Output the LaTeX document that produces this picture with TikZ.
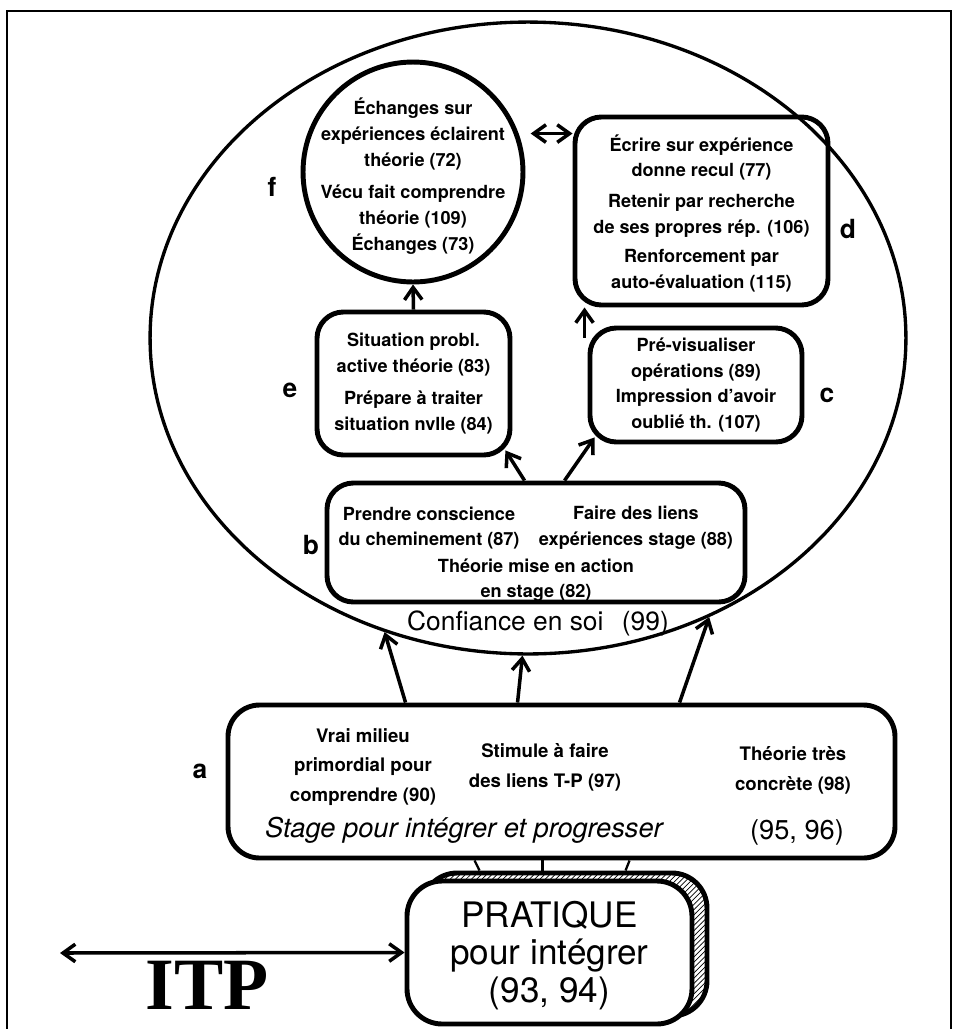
\documentclass[tikz,border=0pt]{standalone}
\usepackage{fontspec}
\setmainfont{TeX Gyre Heros}
\newfontfamily\itpfont{Liberation Serif}
\usepackage{tikz}
\usetikzlibrary{calc,arrows.meta,patterns,shapes.geometric,fit}
\newcommand{\boxfont}{\fontsize{10.3}{14.6}\selectfont\bfseries}
\newcommand{\stagefont}{\fontsize{10.6}{17}\selectfont\bfseries}
\tikzset{
  frameline/.style = {line width=1.3pt, draw=black},
  oval/.style      = {ellipse, draw=black, line width=1.9pt, minimum width=15.12cm, minimum height=12.64cm, inner sep=0pt},
  panel/.style     = {draw=black, line width=2.8pt, rounded corners=15pt, inner sep=0pt},
  bubble/.style    = {circle, draw=black, line width=2.8pt, minimum size=4.4cm, inner sep=0pt},
  pratbox/.style   = {draw=black, line width=2.8pt, rounded corners=20pt, inner sep=0pt},
  boxtext/.style   = {font=\boxfont, align=center, inner sep=0pt},
  stagetext/.style = {font=\stagefont, align=center, inner sep=0pt},
  tag/.style       = {font=\fontsize{15}{15}\selectfont\bfseries, inner sep=0pt},
  arr/.style       = {-{Straight Barb[length=7pt,width=10pt]}, line width=2pt},
  dblarr/.style    = {{Straight Barb[length=7pt,width=10pt]}-{Straight Barb[length=7pt,width=10pt]}, line width=2pt},
  link/.style      = {line width=1.3pt}
}

\begin{document}
\begin{tikzpicture}[x=0.02cm, y=-0.02cm]
    \useasboundingbox (0,0) rectangle (954,1029);
    % outer frame
    \draw[frameline] (7,1040) -- (7,11) -- (951,11) -- (951,1040);

    % large oval
    \node[oval] (conf) at (528,338) {};

    % f : circle
    \node[bubble] (f) at (413,172) {};
    \node[boxtext] (ftext) at ($(f.center)+(0,4)$) {Échanges sur\\expériences éclairent\\théorie (72)\\[4pt]Vécu fait comprendre\\théorie (109)\\Échanges (73)};
    \node[tag] (lf) at (272,187) {f};

    % d
    \node[panel, fit={(575,117) (828,305)}] (d) {};
    \node[boxtext] (dtext) at ($(d.center)+(0,2)$) {Écrire sur expérience\\donne recul (77)\\[3pt]Retenir par recherche\\de ses propres rép. (106)\\[2pt]Renforcement par\\auto-évaluation (115)};
    \node[tag] (ld) at (848,229) {d};

    % e
    \node[panel, fit={(317,312) (510,455)}] (e) {};
    \node[boxtext] (etext) at (e.center) {Situation probl.\\active théorie (83)\\[4pt]Prépare à traiter\\situation nvlle (84)};
    \node[tag] (le) at (290,390) {e};

    % c
    \node[panel, fit={(590,328) (802,442)}] (c) {};
    \node[boxtext] (ctext) at (c.center) {Pré-visualiser\\opérations (89)\\Impression d'avoir\\oublié th. (107)};
    \node[tag] (lc) at (827,395) {c};

    % b
    \node[panel, fit={(327,483) (745,602)}] (b) {};
    \node[boxtext] (b1) at (429,528) {Prendre conscience\\du cheminement (87)};
    \node[boxtext] (b2) at (636,528) {Faire des liens\\expériences stage (88)};
    \node[boxtext] (b3) at (536,580) {Théorie mise en action\\en stage (82)};
    \node[tag] (lb) at (311,545) {b};
    \node[font=\fontsize{15}{15}\selectfont, inner sep=0pt] (conftext) at (538,623) {Confiance en soi\hspace{0.7em}(99)};

    % a
    \node[panel, rounded corners=18pt, fit={(228,705) (895,858)}] (a) {};
    \node[stagetext] (a1) at (363,767) {Vrai milieu\\primordial pour\\comprendre (90)};
    \node[stagetext] (a2) at (545,767) {Stimule à faire\\des liens T-P (97)};
    \node[stagetext] (a3) at (793,770) {Théorie très\\concrète (98)};
    \node[font=\fontsize{15.5}{15.5}\selectfont\itshape, inner sep=0pt] (a4) at (464,830) {Stage pour intégrer et progresser};
    \node[font=\fontsize{15.5}{15.5}\selectfont, inner sep=0pt] (a5) at (797,832) {(95, 96)};
    \node[tag] (la) at (200,771) {a};

    % PRATIQUE with hatched shadow
    \node[pratbox, pattern=north east lines, fit={(422,873) (707,1016)}] (pshadow) {};
    \node[pratbox, fill=white, fit={(407,881) (692,1024)}] (prat) {};
    \node[font=\fontsize{20}{21.5}\selectfont, align=center, inner sep=0pt] (pratext) at ($(prat.center)+(0,3)$) {PRATIQUE\\pour intégrer\\(93, 94)};

    % ITP
    \coordinate (itpleft) at (60,953);
    \draw[dblarr] (itpleft) -- (prat.west);
    \node[font=\itpfont\bfseries\fontsize{42}{42}\selectfont, inner sep=0pt] (itp) at (207,985) {ITP};

    % connectors
    \draw[arr] (e.north) -- (f.south);
    \draw[dblarr] ($(f.20)+(12,0)$) -- (f.20 -| d.west);
    \draw[arr] ($(c.north west)+(-3,12)$) -- ($(d.south west)+(12,0)$);
    \draw[arr] ($(b.north west)+(200,0)$) -- ($(e.south east)+(-7,-7)$);
    \draw[arr] ($(b.north west)+(240,0)$) -- ($(c.south west)+(7,-7)$);
    \foreach \dx/\ang in {180/244, 292/269, 454/303}{
      \draw[arr] ($(a.north west)+(\dx,0)$) -- (conf.\ang);
    }
    \foreach \dx/\sx in {249/60, 317/123, 404/206}{
      \draw[link] ($(a.south west)+(\dx,0)$) -- ($(pshadow.north west)+(\sx,0)$);
    }
\end{tikzpicture}
\end{document}
